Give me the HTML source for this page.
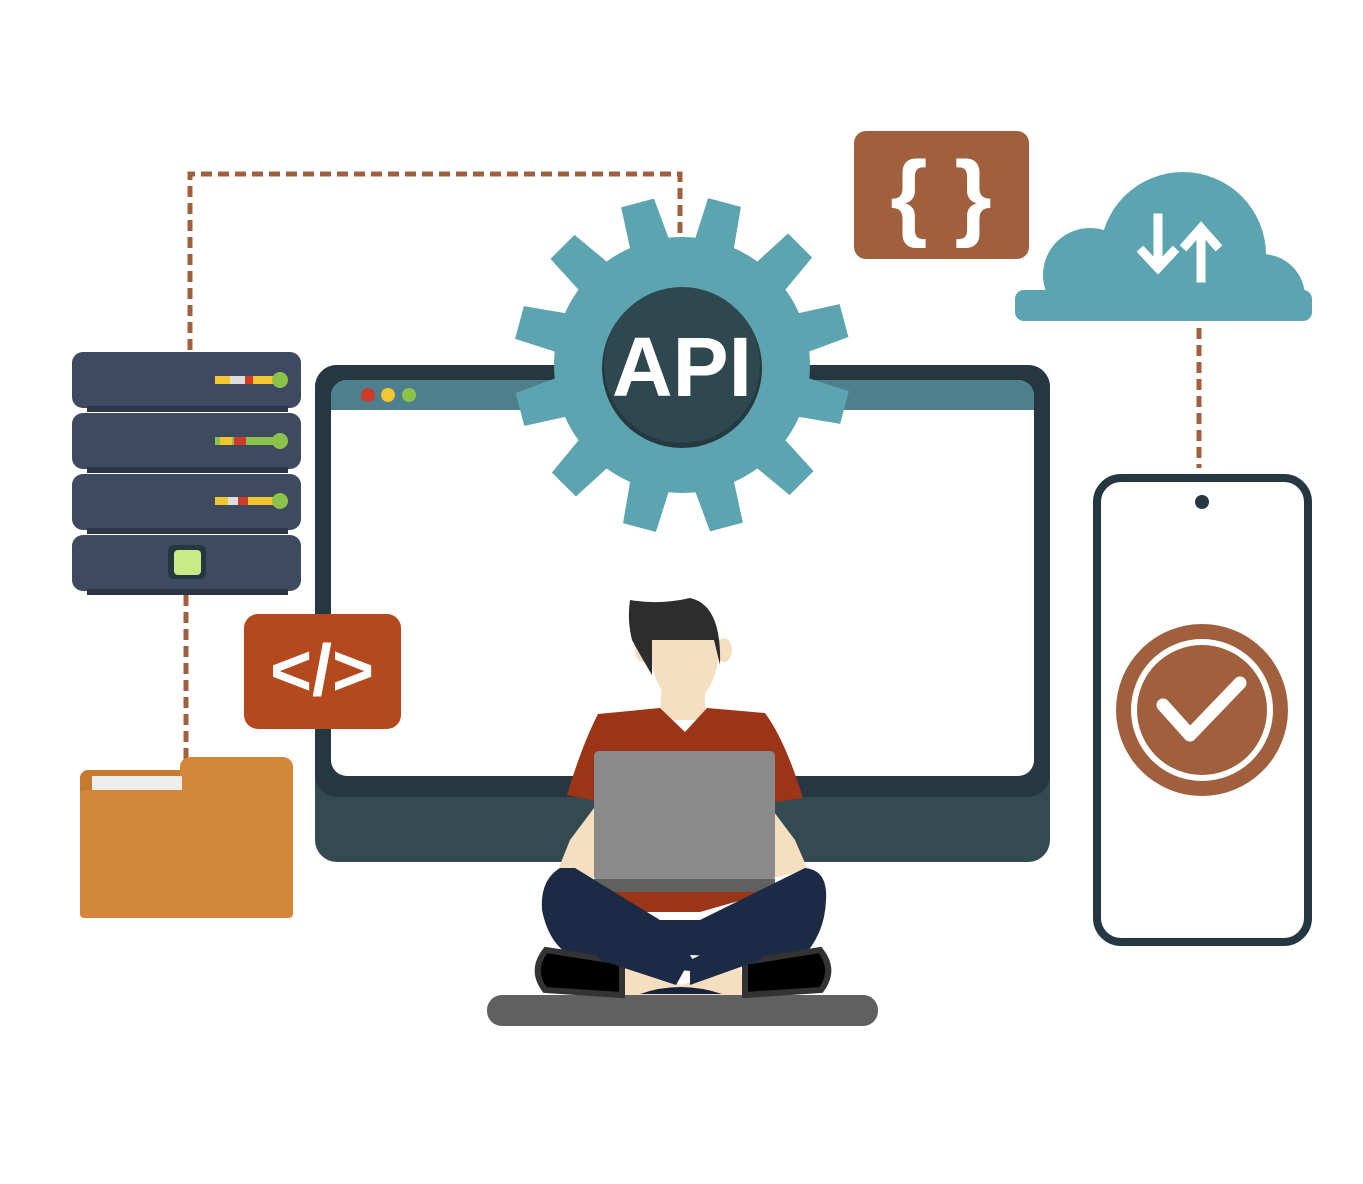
<!DOCTYPE html>
<html><head><style>body{margin:0;background:#fff}svg{display:block}</style></head><body>
<svg width="1363" height="1184" viewBox="0 0 1363 1184" xmlns="http://www.w3.org/2000/svg">
<defs><clipPath id="cc"><rect x="1000" y="150" width="330" height="170"/></clipPath></defs>
<g fill="none" stroke="#a0603e" stroke-width="5" stroke-dasharray="11 6">
<path d="M190 350V174H680V240"/><path d="M186 595V762"/><path d="M1199 328V468"/>
</g>
<!-- monitor -->
<rect x="315" y="365" width="735" height="497" rx="22" fill="#334a50"/>
<rect x="315" y="365" width="735" height="432" rx="22" fill="#253842"/>
<rect x="331" y="380" width="703" height="396" rx="16" fill="#fff"/>
<path d="M347 380H1018a16 16 0 0 1 16 16V410H331V396a16 16 0 0 1 16-16z" fill="#4d7f8c"/>
<circle cx="368" cy="395" r="7" fill="#d03a2a"/><circle cx="388" cy="395" r="7" fill="#f1c62e"/><circle cx="409" cy="395" r="7" fill="#8bc34a"/>
<!-- gear -->
<g fill="#5ba4b0" transform="translate(682 365)">
<circle r="128"/>
<g id="t"><path d="M-20-125L-18-168L16-168L20-125z" transform="rotate(15)"/></g>
<use href="#t" transform="rotate(30)"/><use href="#t" transform="rotate(60)"/><use href="#t" transform="rotate(90)"/>
<use href="#t" transform="rotate(120)"/><use href="#t" transform="rotate(150)"/><use href="#t" transform="rotate(180)"/>
<use href="#t" transform="rotate(210)"/><use href="#t" transform="rotate(240)"/><use href="#t" transform="rotate(270)"/>
<use href="#t" transform="rotate(300)"/><use href="#t" transform="rotate(330)"/>
<circle r="80" cy="3" fill="#26393e"/><circle r="78" fill="#2f474e"/>
</g>
<text x="682" y="396" text-anchor="middle" font-family="Liberation Sans,sans-serif" font-weight="bold" font-size="84" fill="#fff">API</text>
<!-- braces -->
<rect x="854" y="131" width="175" height="128" rx="12" fill="#a0603e"/>
<text x="941" y="228" text-anchor="middle" font-family="Liberation Sans,sans-serif" font-weight="bold" font-size="96" fill="#fff">{ }</text>
<!-- cloud -->
<g fill="#5ba4b0" clip-path="url(#cc)">
<circle cx="1183" cy="255" r="83"/><circle cx="1090" cy="275" r="47"/><circle cx="1262" cy="297" r="43"/>
</g>
<rect x="1015" y="290" width="297" height="31" rx="9" fill="#5ba4b0"/>
<g stroke="#fff" stroke-width="9" fill="none" stroke-linecap="square">
<path d="M1158 218V265M1143 252L1158 268L1173 252"/><path d="M1201 278V231M1186 245L1201 228L1216 245"/>
</g>
<!-- server -->
<g fill="#3d4a60">
<rect x="72" y="352" width="229" height="56" rx="11"/><rect x="72" y="413" width="229" height="56" rx="11"/>
<rect x="72" y="474" width="229" height="56" rx="11"/><rect x="72" y="535" width="229" height="56" rx="11"/>
</g>
<g fill="#2b3546"><rect x="87" y="406" width="201" height="6"/><rect x="87" y="467" width="201" height="6"/><rect x="87" y="528" width="201" height="6"/><rect x="87" y="589" width="201" height="6"/></g>
<g><rect x="215" y="376" width="60" height="8" fill="#f1c62e"/><rect x="230" y="376" width="15" height="8" fill="#ddd"/><rect x="245" y="376" width="8" height="8" fill="#d03a2a"/><circle cx="280" cy="380" r="8" fill="#8bc34a"/>
<rect x="215" y="437" width="60" height="8" fill="#8bc34a"/><rect x="220" y="437" width="12" height="8" fill="#f1c62e"/><rect x="234" y="437" width="12" height="8" fill="#d03a2a"/><circle cx="280" cy="441" r="8" fill="#8bc34a"/>
<rect x="215" y="497" width="60" height="8" fill="#f1c62e"/><rect x="228" y="497" width="10" height="8" fill="#ddd"/><rect x="238" y="497" width="10" height="8" fill="#d03a2a"/><circle cx="280" cy="501" r="8" fill="#8bc34a"/></g>
<rect x="168" y="545" width="38" height="34" rx="6" fill="#253842"/><rect x="174" y="550" width="27" height="25" rx="4" fill="#c8ec85"/>
<!-- code -->
<rect x="244" y="614" width="157" height="115" rx="14" fill="#b5491e"/>
<text x="322" y="695" text-anchor="middle" font-family="Liberation Sans,sans-serif" font-weight="bold" font-size="72" fill="#fff">&lt;/&gt;</text>
<!-- folder -->
<rect x="80" y="770" width="213" height="148" rx="8" fill="#c57a30"/>
<rect x="180" y="757" width="113" height="50" rx="10" fill="#d2873a"/>
<rect x="92" y="776" width="90" height="15" fill="#eee"/>
<rect x="80" y="790" width="213" height="128" rx="4" fill="#d2873a"/>
<!-- phone -->
<rect x="1097" y="478" width="211" height="464" rx="24" fill="#fff" stroke="#253842" stroke-width="8"/>
<circle cx="1202" cy="502" r="7" fill="#253842"/>
<circle cx="1202" cy="710" r="86" fill="#a0603e"/>
<circle cx="1202" cy="710" r="68" fill="none" stroke="#fff" stroke-width="6"/>
<path d="M1163 705L1190 735L1240 683" fill="none" stroke="#fff" stroke-width="13" stroke-linecap="round" stroke-linejoin="round"/>
<!-- person -->
<rect x="487" y="995" width="391" height="31" rx="15" fill="#606060"/>
<path d="M600 800L570 840L558 870L600 880Z" fill="#f5dfc0"/>
<path d="M765 800L795 840L808 870L765 880Z" fill="#f5dfc0"/>
<ellipse cx="643" cy="650" rx="8" ry="12" fill="#f5dfc0"/><ellipse cx="724" cy="650" rx="8" ry="12" fill="#f5dfc0"/>
<path d="M662 680L660 720L705 720L705 680Z" fill="#f5dfc0"/>
<path d="M651 640Q650 700 685 702Q718 700 720 640L710 630L655 630Z" fill="#f5dfc0"/>
<path d="M630 600Q660 605 690 598Q722 605 720 665L714 640L652 640L652 675Q640 655 632 640Q627 620 630 600Z" fill="#2d2d2d"/>
<path d="M598 714L660 708L685 732L707 708L765 713Q785 740 803 798L776 802L600 802L567 795Q582 745 598 714Z" fill="#9c3418"/>
<rect x="594" y="751" width="181" height="130" rx="5" fill="#8a8a8a"/>
<rect x="594" y="879" width="181" height="13" fill="#606060"/>
<path d="M610 892L770 892L700 912L640 912Z" fill="#9c3418"/>
<path d="M560 868Q540 880 542 910Q550 950 580 960L700 972L690 955L800 960Q825 935 826 900Q828 870 805 868L700 920L660 920L575 868Z" fill="#1b2a45"/>
<path d="M621 965L682 985L740 965L745 995L621 995Z" fill="#f5dfc0"/>
<path d="M640 994Q680 980 722 994Z" fill="#16223a"/>
<path d="M546 950Q530 970 545 990L622 995L622 962Z" fill="#000" stroke="#333" stroke-width="6"/>
<path d="M820 950Q836 970 821 990L745 995L745 962Z" fill="#000" stroke="#333" stroke-width="6"/>
<path d="M560 905L690 960L676 985L600 960Z" fill="#1b2a45"/>
<path d="M808 905L690 960L690 985L760 960Z" fill="#1b2a45"/>
</svg>
</body></html>
